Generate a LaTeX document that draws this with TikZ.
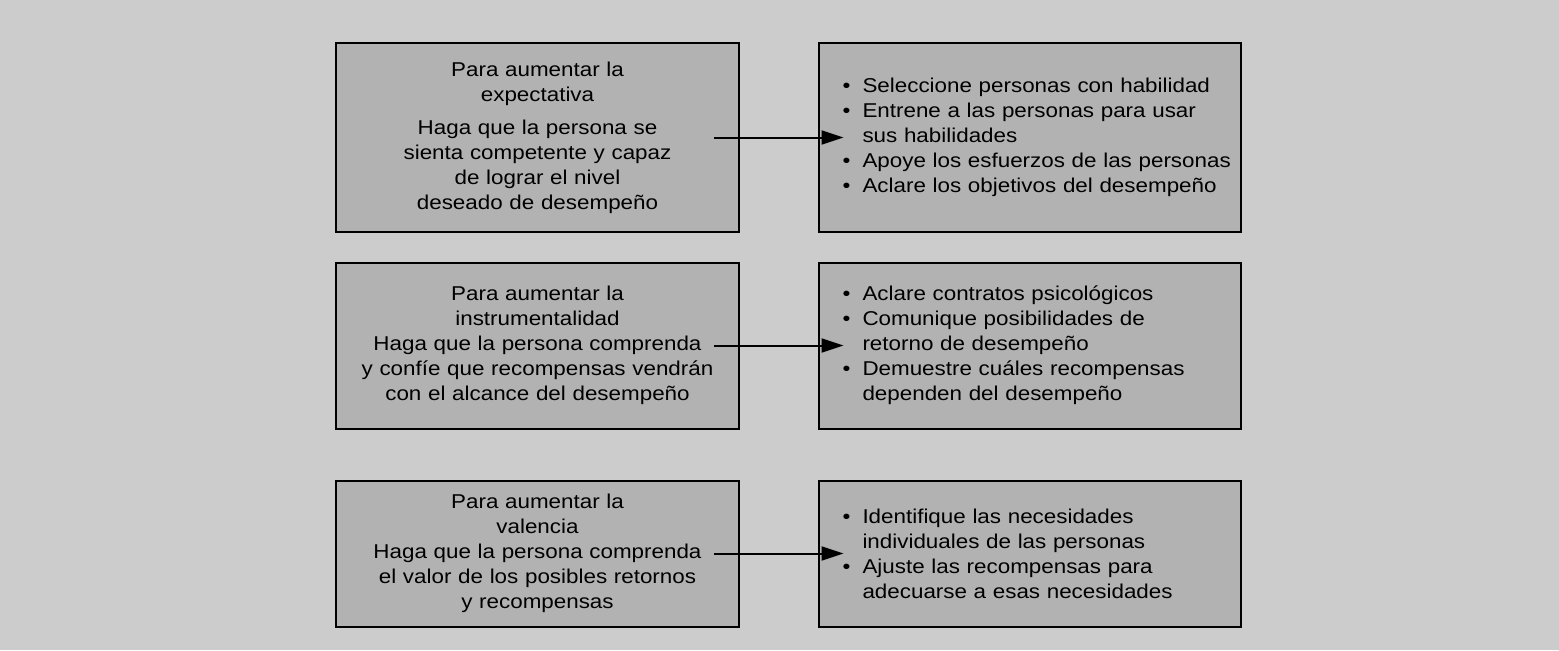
\documentclass[tikz,border=0pt]{standalone}
\usepackage{fontspec}
\setmainfont{Liberation Sans}[FakeStretch=1.12]
\usepackage{tikz}
\usetikzlibrary{arrows.meta,positioning}
\definecolor{paper}{gray}{0.80}
\definecolor{shade}{gray}{0.70}
\newcommand{\itm}{\makebox[16pt][c]{\textbullet}}
\newcommand{\cnt}{\hspace*{16pt}}

\begin{document}
\begin{tikzpicture}
	\fill[paper] (0,0) rectangle (779.5pt,-325pt);
	\useasboundingbox (0,0) rectangle (779.5pt,-325pt);
	\begin{scope}[node distance=104pt and 246pt,on grid,>={Triangle[length=11pt,width=7pt]},
		font=\fontsize{10}{12.5}\selectfont,
		boxGoal/.style={rectangle,draw,line width=1pt,fill=shade,minimum width=201.5pt,text width=193pt,inner xsep=4.25pt,align=center},
		boxAct/.style={rectangle,draw,line width=1pt,fill=shade,minimum width=211pt,text width=199pt,inner xsep=6pt,align=left},
		link/.style={->,line width=1pt,shorten <=-13pt,shorten >=-13pt}]
		\node [boxGoal,minimum height=94.5pt]	(1A)	at (268.75pt,-68.75pt)	{Para aumentar la\\ expectativa\\[4pt] Haga que la persona se\\ sienta competente y capaz\\ de lograr el nivel\\ deseado de desempeño};
		\node [boxAct,minimum height=94.5pt]	(1B)	[right=of 1A]	{\itm Seleccione personas con habilidad\\ \itm Entrene a las personas para usar\\ \cnt sus habilidades\\ \itm\mbox{Apoye los esfuerzos de las personas}\\ \itm Aclare los objetivos del desempeño};
		\node [boxGoal,minimum height=83pt]		(2A)	[below=of 1A]	{Para aumentar la\\ instrumentalidad\\ Haga que la persona comprenda\\ y confíe que recompensas vendrán\\ con el alcance del desempeño};
		\node [boxAct,minimum height=83pt]		(2B)	[right=of 2A]	{\itm Aclare contratos psicológicos\\ \itm Comunique posibilidades de\\ \cnt retorno de desempeño\\ \itm Demuestre cuáles recompensas\\ \cnt dependen del desempeño};
		\node [boxGoal,minimum height=73pt]		(3A)	[below=of 2A]	{Para aumentar la\\ valencia\\ Haga que la persona comprenda\\ el valor de los posibles retornos\\ y recompensas};
		\node [boxAct,minimum height=73pt]		(3B)	[right=of 3A]	{\itm Identifique las necesidades\\ \cnt individuales de las personas\\ \itm Ajuste las recompensas para\\ \cnt adecuarse a esas necesidades};
		\path 
		(1A) edge [link]	(1B)
		(2A) edge [link]	(2B)
		(3A) edge [link]	(3B)
		;
	\end{scope}
\end{tikzpicture}
\end{document}
